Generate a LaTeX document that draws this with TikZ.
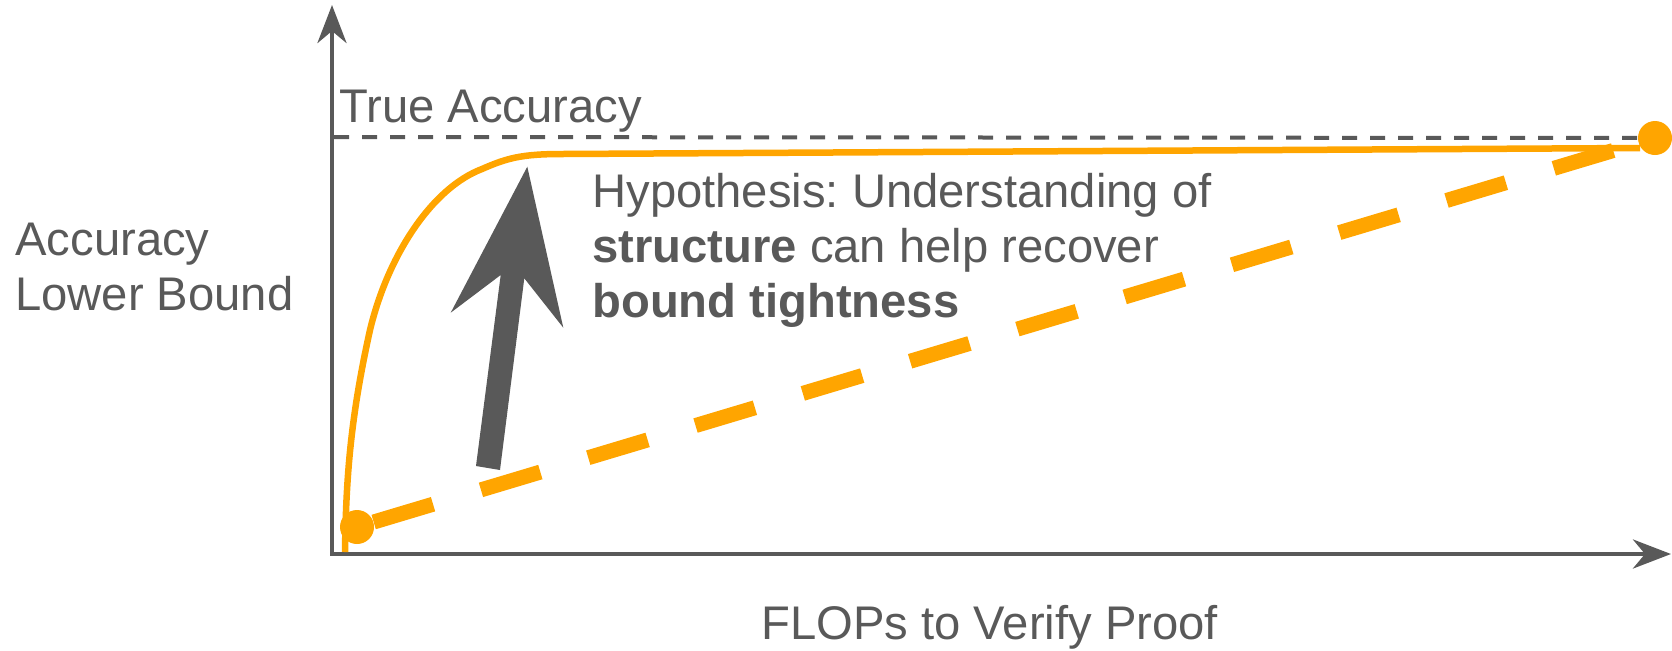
\documentclass[tikz,border=0pt]{standalone}
\usepackage{fontspec}
\setmainfont{Liberation Sans}
\usetikzlibrary{arrows.meta}
\definecolor{txtgray}{HTML}{595959}
\definecolor{gold}{HTML}{FFA500}
\frenchspacing
\begin{document}
\begin{tikzpicture}[x=.5pt,y=-.5pt,line join=miter,
	axis/.style={draw=txtgray,line width=2.25pt,{Stealth[length=19pt,width=14.5pt,inset=6pt]}-{Stealth[length=19pt,width=14.5pt,inset=6pt]}},
	refline/.style={draw=txtgray,line width=2pt,dash pattern=on 7.5pt off 6.5pt},
	tightcurve/.style={draw=gold,line width=3.25pt},
	loosebound/.style={draw=gold,line width=7.5pt,dash pattern=on 31pt off 25pt},
	dot/.style={circle,fill=gold,minimum size=17pt,inner sep=0pt},
	lbl/.style={inner sep=0pt,text=txtgray,font=\fontsize{23.6}{27.5}\selectfont,align=left,anchor=base west}]
	\useasboundingbox (0,0) rectangle (1672,650);
	\coordinate (O) at (332,554);
	\coordinate (ytip) at (332,5);
	\coordinate (xtip) at (1671,554);
	\coordinate (yref) at (334,137);
	\node[dot] (lo) at (357,527) {};
	\node[dot] (hi) at (1655,138) {};
	% axes and the true accuracy level
	\draw[axis] (ytip) -- (O) -- (xtip);
	\draw[refline] (yref) -- (hi);
	% bounds
	\draw[tightcurve] (345,552) .. controls (346,480) and (350,420) .. (370,330)
		.. controls (388,255) and (432,188) .. (482,169)
		.. controls (507,158) and (522,154) .. (562,154) -- (1640,148);
	\draw[loosebound] (lo) -- (hi);
	\fill[txtgray] (527.3,166.7) -- (563.3,327.7) -- (524.3,278.3) -- (500,470) -- (476,466) -- (500.7,275) -- (450.7,312.7) -- cycle;
	% labels
	\node[lbl] (truth) at (339,122) {True Accuracy};
	\node[lbl] (ylab) at (15,310) {Accuracy\\Lower Bound};
	\node[lbl] (xlab) at (761,639) {FLOPs to Verify Proof};
	\node[lbl] (hyp) at (592,317) {Hypothesis: Understanding of\\\textbf{structure} can help recover\\\textbf{bound tightness}};
\end{tikzpicture}
\end{document}
